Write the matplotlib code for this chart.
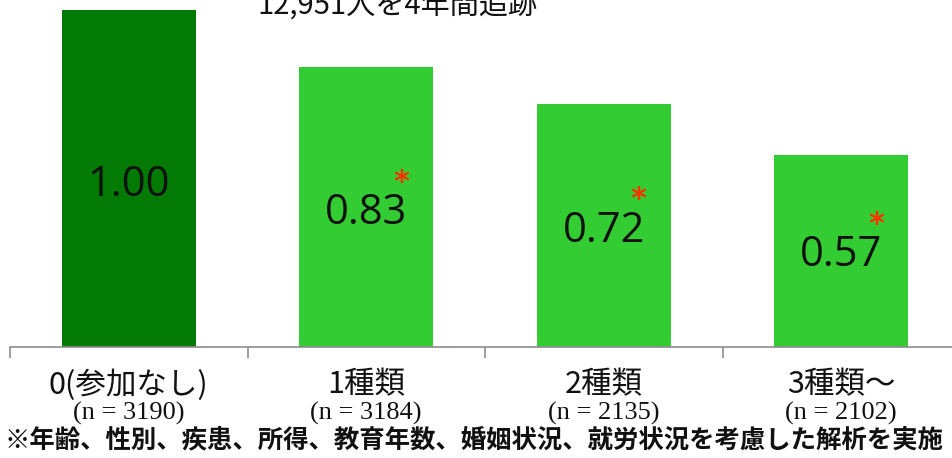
import matplotlib
matplotlib.use('Agg')
import matplotlib.pyplot as plt
import matplotlib.transforms as mtransforms

# data
categories = ['0(参加なし)', '1種類', '2種類', '3種類〜']
n_labels = ['(n = 3190)', '(n = 3184)', '(n = 2135)', '(n = 2102)']
ratios = [1.00, 0.83, 0.72, 0.57]
significant = [False, True, True, True]
title = '12,951人を4年間追跡'
footnote = '※年齢、性別、疾患、所得、教育年数、婚姻状況、就労状況を考慮した解析を実施'

colors = ['#037A03'] + ['#33CC33'] * 3

W, H = 952, 458
fig = plt.figure(figsize=(W / 100, H / 100), dpi=100)
ax = fig.add_axes([10 / W, 111 / H, 950 / W, 337 / H])

x = list(range(len(categories)))
ax.bar(x, ratios, width=0.565, color=colors)
ax.set_xlim(-0.5, len(categories) - 0.5)
ax.set_ylim(0, 1.0)

# value labels inside bars, red asterisk for significant ones
for xi, v, sig in zip(x, ratios, significant):
    ax.text(xi, v * 0.48, f'{v:.2f}', ha='center', va='center',
            fontsize=30, family='Open Sans', color='#111111')
    if sig:
        ax.annotate('*', (xi, v * 0.48), xytext=(25, 22), textcoords='offset points',
                    ha='center', va='center', fontsize=22, color='#FF3300',
                    fontweight='bold', family='DejaVu Sans')

# axis styling
for s in ['left', 'right', 'top']:
    ax.spines[s].set_visible(False)
ax.spines['bottom'].set_color('#8C8C8C')
ax.spines['bottom'].set_linewidth(1.2)
ax.set_yticks([])
ax.set_xticks([i - 0.5 for i in range(len(categories) + 1)])
ax.set_xticklabels([])
ax.tick_params(axis='x', direction='out', length=8, color='#8C8C8C', width=1.2)

trans = mtransforms.blended_transform_factory(ax.transData, fig.transFigure)
for xi, cat, nl in zip(x, categories, n_labels):
    ax.text(xi, 1 - 385 / H, cat, transform=trans, ha='center', va='center',
            fontsize=22, family=['Noto Sans CJK JP', 'DejaVu Sans'], color='#111111')
    ax.text(xi, 1 - 413 / H, nl, transform=trans, ha='center', va='center',
            fontsize=19, family='Liberation Serif', color='#111111')

fig.text(5 / W, 1 - 440 / H, footnote, ha='left', va='center', fontsize=18.3,
         fontweight='bold', family=['Noto Sans CJK JP', 'DejaVu Sans'], color='#111111')
fig.text(397 / W, 1 - 15 / H, title, ha='center', va='baseline', fontsize=21,
         family=['Noto Sans CJK JP', 'DejaVu Sans'], color='#111111')

fig.savefig('out.png', dpi=100)
